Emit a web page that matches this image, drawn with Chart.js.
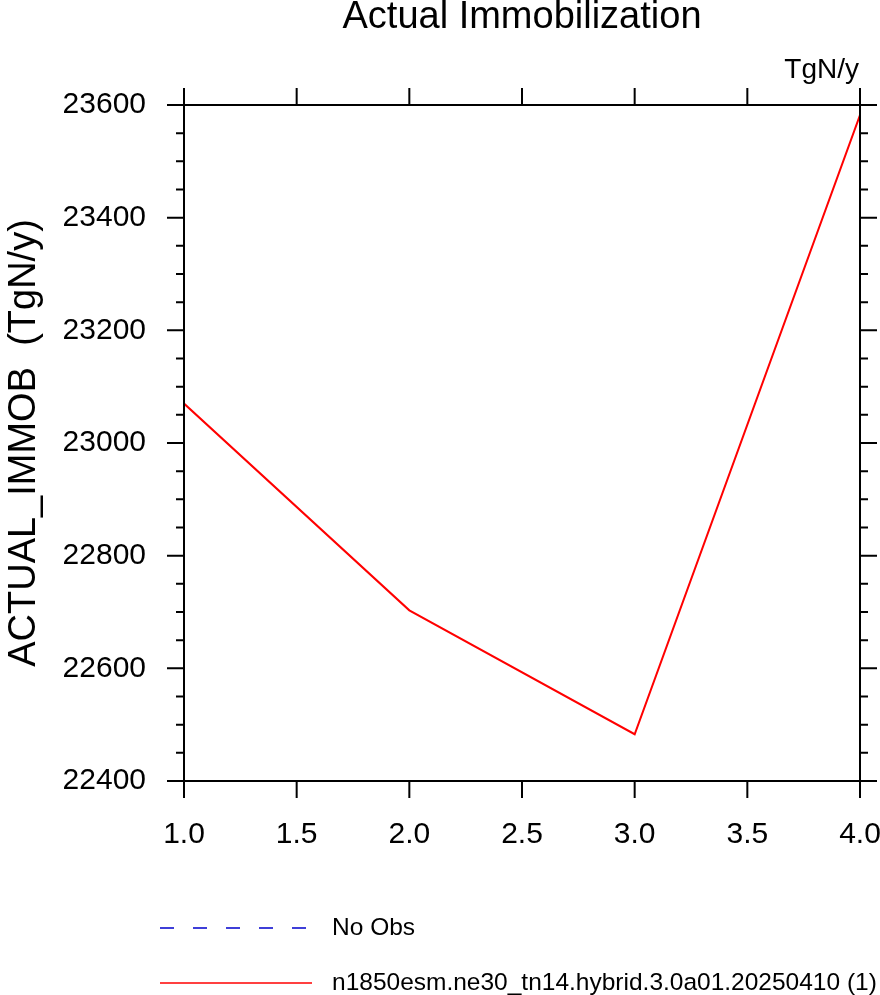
<!DOCTYPE html>
<html>
<head>
<meta charset="utf-8">
<title>Actual Immobilization</title>
<script src="https://cdn.jsdelivr.net/npm/chart.js@4"></script>
<style>
  body { margin: 0; background: #fff; }
  #wrap { width: 880px; height: 995px; }
</style>
</head>
<body>
<div id="wrap"><canvas id="immobChart"></canvas></div>
<script>
// values
const years = [1, 2, 3, 4];
const immobValues = [23070, 22703, 22483, 23582];
const obsValues = [];
const xTicks = [1.0, 1.5, 2.0, 2.5, 3.0, 3.5, 4.0];
const yTicks = [22400, 22600, 22800, 23000, 23200, 23400, 23600];
const seriesLabels = ['No Obs', 'n1850esm.ne30_tn14.hybrid.3.0a01.20250410 (1)'];

const FONT = "'Liberation Sans', Arial, Helvetica, sans-serif";
const MINOR_STEP = 50;

// NCL style frame: box with outward major/minor ticks on all four sides,
// title on top, units on the right and a legend under the plot
const nclFrame = {
  id: 'nclFrame',
  afterDatasetsDraw(chart) {
    const { ctx, chartArea: a, scales } = chart;
    const xs = scales.x, ys = scales.y;
    ctx.save();
    ctx.strokeStyle = '#000';
    ctx.lineWidth = 2;
    ctx.strokeRect(a.left, a.top, a.right - a.left, a.bottom - a.top);

    ctx.beginPath();
    xTicks.forEach(v => {
      const px = xs.getPixelForValue(v);
      ctx.moveTo(px, a.bottom); ctx.lineTo(px, a.bottom + 17);
      ctx.moveTo(px, a.top); ctx.lineTo(px, a.top - 17);
    });
    for (let v = ys.min; v <= ys.max; v += MINOR_STEP) {
      const py = ys.getPixelForValue(v);
      const len = yTicks.includes(v) ? 17 : 8;
      ctx.moveTo(a.left, py); ctx.lineTo(a.left - len, py);
      ctx.moveTo(a.right, py); ctx.lineTo(a.right + len, py);
    }
    ctx.stroke();

    ctx.fillStyle = '#000';
    ctx.font = '38px ' + FONT;
    ctx.textAlign = 'center';
    ctx.textBaseline = 'middle';
    ctx.fillText('Actual Immobilization', (a.left + a.right) / 2, 18);

    ctx.font = '28px ' + FONT;
    ctx.textAlign = 'right';
    ctx.fillText('TgN/y', a.right - 1, 70);

    // legend
    chart.data.datasets.forEach((ds, i) => {
      const ly = 928 + i * 55;
      ctx.beginPath();
      ctx.strokeStyle = ds.borderColor;
      ctx.lineWidth = 1.5;
      ctx.setLineDash(ds.borderDash || []);
      ctx.moveTo(160, ly); ctx.lineTo(312, ly);
      ctx.stroke();
      ctx.setLineDash([]);
      ctx.fillStyle = '#000';
      ctx.font = '24.5px ' + FONT;
      ctx.textAlign = 'left';
      ctx.fillText(ds.label, 332, ly);
    });
    ctx.restore();
  }
};

new Chart(document.getElementById('immobChart'), {
  type: 'line',
  data: {
    datasets: [
      {
        label: seriesLabels[0],
        data: obsValues,
        borderColor: '#0000cc',
        borderDash: [14, 19],
        borderWidth: 1,
        pointRadius: 0
      },
      {
        label: seriesLabels[1],
        data: years.map((x, i) => ({ x: x, y: immobValues[i] })),
        borderColor: '#ff0000',
        borderWidth: 2,
        pointRadius: 0,
        tension: 0
      }
    ]
  },
  options: {
    responsive: true,
    maintainAspectRatio: false,
    animation: false,
    layout: { padding: { top: 105, right: 20, left: 0, bottom: 0 } },
    plugins: {
      legend: { display: false },
      tooltip: { enabled: false }
    },
    scales: {
      x: {
        type: 'linear',
        min: 1,
        max: 4,
        afterBuildTicks: s => { s.ticks = xTicks.map(v => ({ value: v })); },
        afterFit: s => { s.height = 214; s.paddingLeft = 0; s.paddingRight = 0; },
        grid: { display: false, drawTicks: false },
        border: { display: false },
        ticks: {
          color: '#000',
          padding: 36,
          maxRotation: 0,
          font: { family: FONT, size: 30 },
          callback: v => Number(v).toFixed(1)
        }
      },
      y: {
        type: 'linear',
        min: 22400,
        max: 23600,
        afterBuildTicks: s => { s.ticks = yTicks.map(v => ({ value: v })); },
        afterFit: s => { s.width = 184; s.paddingTop = 0; s.paddingBottom = 0; },
        grid: { display: false, drawTicks: false },
        border: { display: false },
        title: {
          display: true,
          text: 'ACTUAL_IMMOB  (TgN/y)',
          color: '#000',
          font: { family: FONT, size: 38 },
          padding: { top: 2, bottom: 0 }
        },
        ticks: {
          color: '#000',
          padding: 38,
          font: { family: FONT, size: 30 },
          callback: v => String(v)
        }
      }
    }
  },
  plugins: [nclFrame]
});
</script>
</body>
</html>
